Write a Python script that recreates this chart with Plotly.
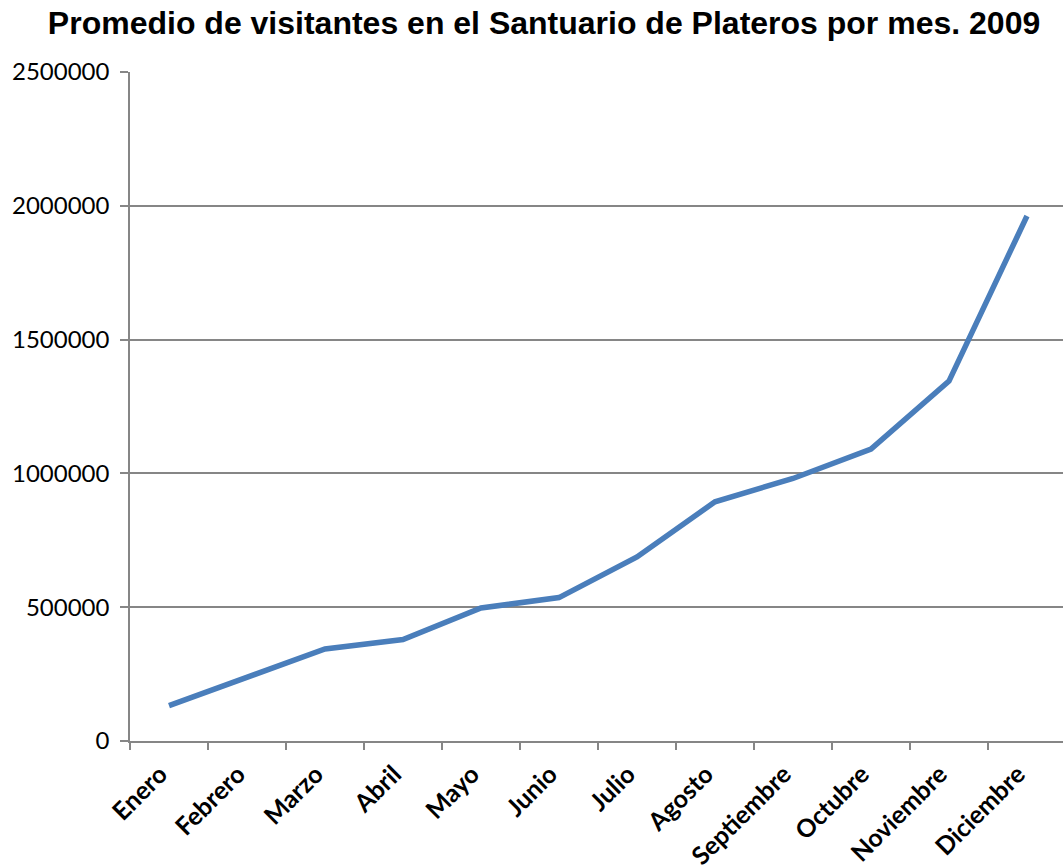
import plotly.graph_objects as go

meses = ["Enero", "Febrero", "Marzo", "Abril", "Mayo", "Junio", "Julio",
         "Agosto", "Septiembre", "Octubre", "Noviembre", "Diciembre"]
visitantes = [132000, 238000, 344000, 379000, 497000, 536000, 688000,
              894000, 981000, 1091000, 1345000, 1962000]
y_ticks = [0, 500000, 1000000, 1500000, 2000000, 2500000]

fig = go.Figure()
fig.add_trace(go.Scatter(
    x=meses, y=visitantes, mode="lines",
    line=dict(color="#4A7EBB", width=5.5),
    showlegend=False, hoverinfo="skip",
))

fig.update_layout(
    width=1063, height=866,
    paper_bgcolor="white", plot_bgcolor="white",
    margin=dict(l=130, r=0, t=72, b=125, autoexpand=False),
    title=dict(
        text="<b>Promedio de visitantes en el Santuario de Plateros por mes. 2009</b>",
        font=dict(family="Liberation Sans, Arial", size=32, color="black"),
        x=0.5118, xanchor="center", y=0.9734, yanchor="middle",
    ),
)
fig.update_xaxes(
    type="category", range=[-0.5, 11.462], automargin=False,
    showgrid=False, showline=True, linecolor="#868686", linewidth=1.5,
    ticks="outside", ticklen=7, tickcolor="#868686", tickwidth=1.5,
    tickson="boundaries",
    tickangle=-45, ticklabelshift=-9, ticklabelstandoff=7,
    tickfont=dict(family="Lato, Noto Sans", size=25, color="black", weight="bold"),
)
fig.update_yaxes(
    range=[0, 2500000], tickvals=y_ticks, automargin=False,
    ticktext=[str(v) for v in y_ticks],
    showgrid=True, gridcolor="#868686", gridwidth=1.5,
    showline=True, linecolor="#868686", linewidth=1.5,
    ticks="outside", ticklen=8, tickcolor="#868686", tickwidth=1.5,
    ticklabelstandoff=6,
    tickfont=dict(family="Lato, Noto Sans", size=24, color="black"),
    zeroline=False,
)

fig.write_html(
    "out.html",
    config={"displayModeBar": False},
    post_script="document.body.style.margin='0';document.body.style.overflow='hidden';",
)
